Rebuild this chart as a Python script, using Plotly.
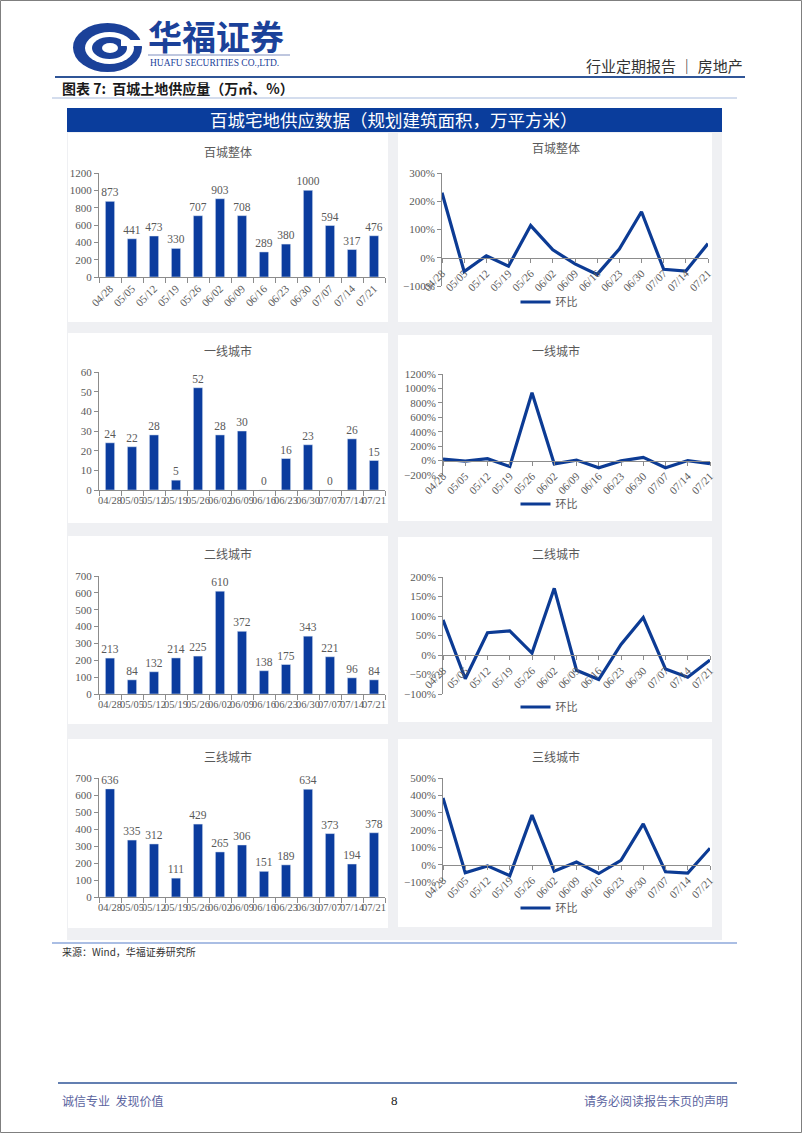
import plotly.graph_objects as go

# ---------------- data ----------------
dates = ["04/28", "05/05", "05/12", "05/19", "05/26", "06/02", "06/09",
         "06/16", "06/23", "06/30", "07/07", "07/14", "07/21"]

total_supply = [873, 441, 473, 330, 707, 903, 708, 289, 380, 1000, 594, 317, 476]
total_mom = [230, -49, 7, -30, 114, 28, -22, -59, 31, 163, -41, -47, 50]

tier1_supply = [24, 22, 28, 5, 52, 28, 30, 0, 16, 23, 0, 26, 15]
tier1_mom = [20, -8, 27, -82, 940, -46, 7, -100, -5, 44, -100, 0, -42]

tier2_supply = [213, 84, 132, 214, 225, 610, 372, 138, 175, 343, 221, 96, 84]
tier2_mom = [90, -61, 57, 62, 5, 171, -39, -63, 27, 96, -36, -57, -13]

tier3_supply = [636, 335, 312, 111, 429, 265, 306, 151, 189, 634, 373, 194, 378]
tier3_mom = [385, -47, -7, -64, 286, -38, 15, -51, 25, 235, -41, -48, 95]

titles = ["百城整体", "一线城市", "二线城市", "三线城市"]
legend_name = "环比"

# ---------------- helpers ----------------
W, H = 802, 1133
CJK = "Noto Sans CJK SC"
SERIF = "Liberation Serif"
GRAY = "#595959"
AXIS = "#8C8C8C"
BAR = "#0B3C9E"
LINE = "#0C3B94"


def px(x):
    return x / W


def py(y):
    return 1 - y / H


shapes, annotations = [], []


def rect(x0, y0, x1, y1, fill, line_color=None, lw=0, layer="below"):
    shapes.append(dict(type="rect", xref="paper", yref="paper",
                       x0=px(x0), x1=px(x1), y0=py(y1), y1=py(y0),
                       fillcolor=fill, layer=layer,
                       line=dict(width=lw, color=line_color or fill)))


def ellipse(x0, y0, x1, y1, fill):
    shapes.append(dict(type="circle", xref="paper", yref="paper",
                       x0=px(x0), x1=px(x1), y0=py(y1), y1=py(y0),
                       fillcolor=fill, line=dict(width=0), layer="above"))


def hline(x0, x1, y, color, w):
    shapes.append(dict(type="line", xref="paper", yref="paper",
                       x0=px(x0), x1=px(x1), y0=py(y), y1=py(y),
                       line=dict(color=color, width=w), layer="above"))


def text(x, y, s, size, color, family=CJK, xanchor="left"):
    annotations.append(dict(x=px(x), y=py(y), xref="paper", yref="paper",
                            text=s, showarrow=False, xanchor=xanchor,
                            yanchor="middle",
                            font=dict(size=size, color=color, family=family)))


fig = go.Figure()
layout = dict(width=W, height=H,
              margin=dict(l=0, r=0, t=0, b=0, pad=0, autoexpand=False),
              paper_bgcolor="white", plot_bgcolor="rgba(0,0,0,0)",
              showlegend=True)

# ---------------- page frame / header ----------------
rect(0.5, 0.5, 801.5, 1132.5, "rgba(0,0,0,0)", "#7F7F7F", 1, layer="above")

# logo
ellipse(73, 23, 142, 72, "#1B4199")
ellipse(85, 32, 134, 64, "white")
ellipse(92, 37, 127, 59, "#1B4199")
ellipse(102, 43, 118, 53, "white")
rect(121, 40, 142, 46, "white", layer="above")

text(146, 36, "<b>华福证券</b>", 34, "#1B4199")
hline(148, 290, 55, "#7F8FBF", 1)
text(148, 63, "HUAFU SECURITIES CO.,LTD.", 9.5, "#1B4199", family=SERIF)
text(745, 66, "行业定期报告 ｜ 房地产", 15, "#333333", xanchor="right")
hline(55, 745, 77, "#2F5597", 2)
text(60, 88, "<b>图表 7:  百城土地供应量（万㎡、%）</b>", 14, "#1A1A1A")
hline(52, 737, 98, "#A9BBDC", 1)

# banner and panel
rect(67, 108, 722, 132, "#0A3D9C")
text(394, 120, "百城宅地供应数据（规划建筑面积，万平方米）", 17.5, "white", xanchor="center")
rect(67, 132, 722, 940, "#EFF0F3")

hline(52, 737, 943, "#8EA9DB", 1.5)
text(60, 951, "来源：Wind，华福证券研究所", 10, "#333333")

# footer
hline(58, 737, 1083, "#2F5597", 1.5)
text(60, 1100, "诚信专业  发现价值", 12, "#5B64A0")
text(394, 1100, "8", 13, "#1A1A1A", family=SERIF, xanchor="center")
text(730, 1100, "请务必阅读报告末页的声明", 12, "#5B64A0", xanchor="right")

# ---------------- charts ----------------
boxes_left = [(68, 133, 388, 322), (68, 333, 388, 523), (68, 536, 388, 724), (68, 739, 388, 928)]
boxes_right = [(398, 133, 712, 322), (398, 335, 712, 521), (398, 537, 712, 722), (398, 739, 712, 927)]

bar_specs = [
    (total_supply, (99, 385), (173, 277), [0, 1200], 200, -45, 152),
    (tier1_supply, (99, 385), (372, 490), [0, 60], 10, 0, 350),
    (tier2_supply, (99, 385), (576, 694), [0, 700], 100, 0, 553),
    (tier3_supply, (99, 385), (778, 897), [0, 700], 100, 0, 756),
]
line_specs = [
    (total_mom, (442, 708), (173, 286), [-100, 300], 100, 147, 302),
    (tier1_mom, (443, 710), (374, 475), [-200, 1200], 200, 350, 504),
    (tier2_mom, (443, 710), (577, 694), [-100, 200], 50, 553, 707),
    (tier3_mom, (443, 710), (778, 882), [-100, 500], 100, 756, 908),
]

tickfont = dict(family=SERIF, size=11, color=GRAY)
labelfont = dict(family=SERIF, size=11.5, color=GRAY)

for i in range(4):
    for b in (boxes_left[i], boxes_right[i]):
        rect(b[0], b[1], b[2], b[3], "white")

    # ---- bar chart ----
    vals, xd, yd, yr, dt, ang, ty = bar_specs[i]
    n = 2 * i + 1
    xa, ya = ("x" if n == 1 else f"x{n}"), ("y" if n == 1 else f"y{n}")
    fig.add_trace(go.Bar(x=dates, y=vals, xaxis=xa, yaxis=ya,
                         marker=dict(color=BAR), width=0.42,
                         text=[str(v) for v in vals], textposition="outside",
                         textfont=labelfont, outsidetextfont=labelfont,
                         constraintext="none",
                         cliponaxis=False, showlegend=False))
    layout["xaxis" if n == 1 else f"xaxis{n}"] = dict(
        domain=[px(xd[0]), px(xd[1])], anchor=ya, type="category",
        showline=True, linecolor=AXIS, linewidth=1, ticks="outside",
        tickson="boundaries", ticklen=5, tickcolor=AXIS, tickangle=ang,
        tickfont=tickfont if i == 0 else dict(family=SERIF, size=10.5, color=GRAY),
        showgrid=False, fixedrange=True, automargin=False)
    layout["yaxis" if n == 1 else f"yaxis{n}"] = dict(
        domain=[py(yd[1]), py(yd[0])], anchor=xa, range=yr, dtick=dt,
        showline=True, linecolor=AXIS, linewidth=1, ticks="outside",
        ticklen=4, tickcolor=AXIS, tickfont=tickfont, showgrid=False,
        zeroline=False, fixedrange=True, automargin=False)
    text(228, ty, titles[i], 12, GRAY, xanchor="center")

    # ---- line chart ----
    vals, xd, yd, yr, dt, ty, ly = line_specs[i]
    n = 2 * i + 2
    xa, ya = f"x{n}", f"y{n}"
    leg = "legend" if i == 0 else f"legend{i + 1}"
    fig.add_trace(go.Scatter(x=dates, y=vals, xaxis=xa, yaxis=ya,
                             mode="lines", line=dict(color=LINE, width=3.2),
                             name=legend_name, legend=leg, cliponaxis=False))
    y0p, y1p = py(yd[1]), py(yd[0])
    zero_pos = y0p + (0 - yr[0]) / (yr[1] - yr[0]) * (y1p - y0p)
    layout[f"xaxis{n}"] = dict(
        domain=[px(xd[0]), px(xd[1])], anchor="free", position=zero_pos,
        type="category", range=[0, 12], showline=True, linecolor=AXIS,
        linewidth=1, ticks="outside", ticklen=4, tickcolor=AXIS,
        tickangle=-45, tickfont=tickfont, showgrid=False, fixedrange=True,
        automargin=False)
    layout[f"yaxis{n}"] = dict(
        domain=[y0p, y1p], anchor=xa, range=yr, dtick=dt, ticksuffix="%",
        showline=True, linecolor=AXIS, linewidth=1, ticks="outside",
        ticklen=4, tickcolor=AXIS, tickfont=tickfont, showgrid=False,
        zeroline=False, fixedrange=True, automargin=False)
    text(556, ty, titles[i], 12, GRAY, xanchor="center")
    layout[leg] = dict(x=px(549), y=py(ly), xanchor="center", yanchor="middle",
                       orientation="h", bgcolor="rgba(0,0,0,0)", itemwidth=30,
                       font=dict(family=CJK, size=11, color=GRAY))

layout["shapes"] = shapes
layout["annotations"] = annotations
layout["bargap"] = 0.55
fig.update_layout(**layout)
fig.write_html("out.html")
